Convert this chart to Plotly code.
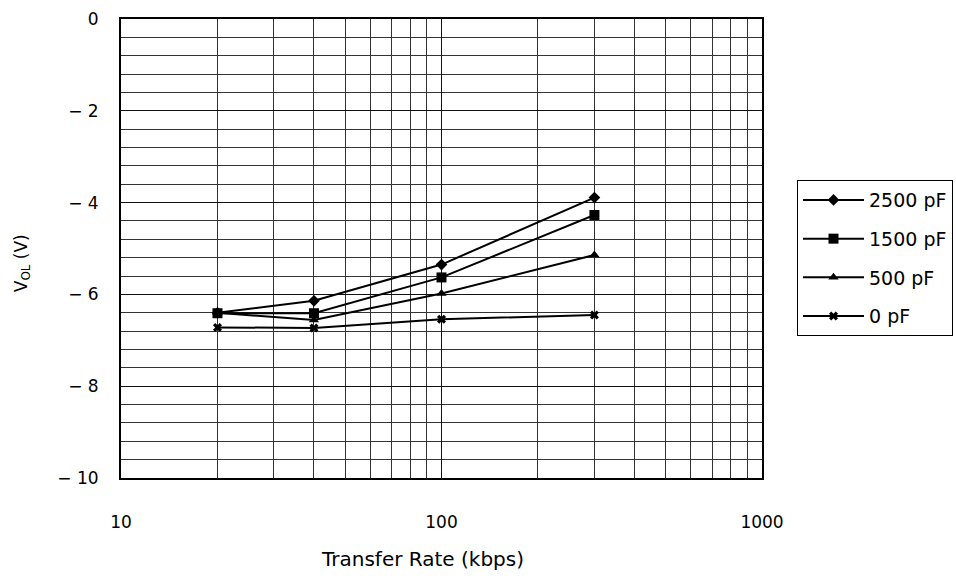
import plotly.graph_objects as go

rate_kbps = [20, 40, 100, 300]
vol_2500 = [-6.40, -6.14, -5.35, -3.89]
vol_1500 = [-6.41, -6.41, -5.63, -4.27]
vol_500 = [-6.40, -6.56, -5.98, -5.14]
vol_0 = [-6.72, -6.73, -6.54, -6.45]

series = [
    ("2500 pF", vol_2500, "diamond", 9),
    ("1500 pF", vol_1500, "square", 10),
    ("500 pF", vol_500, "triangle-up", 9),
    ("0 pF", vol_0, "x", 8),
]

y_tickvals = [0, -2, -4, -6, -8, -10]
y_ticktext = ["0", "− 2", "− 4", "− 6", "− 8", "− 10"]
x_tickvals = [10, 100, 1000]
x_ticktext = ["10", "100", "1000"]
x_minor = [20, 30, 40, 50, 60, 70, 80, 90, 200, 300, 400, 500, 600, 700, 800, 900]

x_title = "Transfer Rate (kbps)"
y_title = "V<sub>OL</sub> (V)"

FONT = "DejaVu Sans, Liberation Sans, Arial, sans-serif"

fig = go.Figure()
for i, (name, vals, sym, size) in enumerate(series):
    fig.add_trace(go.Scatter(
        x=rate_kbps, y=vals, name=name, mode="lines+markers",
        line=dict(color="black", width=2),
        marker=dict(symbol=sym, size=size, color="black", line=dict(width=0)),
        legendgroup=f"g{i}",
    ))

fig.update_layout(
    width=956, height=584,
    margin=dict(l=121, r=194, t=19, b=106, autoexpand=False),
    paper_bgcolor="white", plot_bgcolor="white",
    font=dict(family=FONT, size=17, color="black"),
    showlegend=True,
    legend=dict(
        x=1.0546, xanchor="left", y=0.649, yanchor="top",
        bordercolor="black", borderwidth=1, bgcolor="white",
        font=dict(size=19), tracegroupgap=11, itemwidth=61,
    ),
    xaxis=dict(
        type="log", range=[1, 3], automargin=False,
        tickvals=x_tickvals, ticktext=x_ticktext,
        showgrid=True, gridcolor="#111", gridwidth=1,
        minor=dict(tickvals=x_minor, showgrid=True, gridcolor="#333", gridwidth=1, ticks=""),
        showline=True, linecolor="black", linewidth=2, mirror=True,
        ticks="", ticklabelstandoff=28,
        zeroline=False,
    ),
    yaxis=dict(
        range=[-10, 0], automargin=False,
        tickvals=y_tickvals, ticktext=y_ticktext,
        showgrid=True, gridcolor="#111", gridwidth=1,
        minor=dict(tick0=0, dtick=0.4, showgrid=True, gridcolor="#333", gridwidth=1, ticks=""),
        showline=True, linecolor="black", linewidth=2, mirror=True,
        ticks="", ticklabelstandoff=17,
        zeroline=False,
    ),
    annotations=[
        dict(text=x_title, xref="paper", yref="paper", x=0.471, y=0,
             xanchor="center", yanchor="middle", yshift=-81, showarrow=False,
             font=dict(size=20)),
        dict(text=y_title, xref="paper", yref="paper", x=0, y=0.468,
             xanchor="center", yanchor="middle", xshift=-99, textangle=-90,
             showarrow=False, font=dict(size=17)),
    ],
)

fig.write_html("out.html",
               config={"displayModeBar": False},
               post_script="document.body.style.margin='0';document.body.style.overflow='hidden';")
